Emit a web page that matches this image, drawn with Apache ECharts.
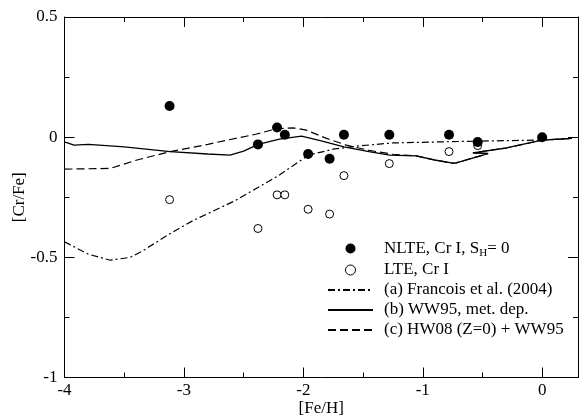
<!DOCTYPE html>
<html><head><meta charset="utf-8">
<script src="https://cdn.jsdelivr.net/npm/echarts@6/dist/echarts.min.js"></script>
<style>html,body{margin:0;padding:0;background:#fff}#c{width:580px;height:416px}</style>
</head><body><div id="c"></div>
<script>
// NLTE, Cr I (filled)
var nlteX = [-3.12, -2.38, -2.22, -2.155, -1.96, -1.78, -1.66, -1.28, -0.78, -0.54, 0];
var nlteY = [0.13, -0.03, 0.04, 0.01, -0.07, -0.09, 0.01, 0.01, 0.01, -0.02, 0];
// LTE, Cr I (open)
var lteX = [-3.12, -2.38, -2.22, -2.155, -1.96, -1.78, -1.66, -1.28, -0.78, -0.54];
var lteY = [-0.26, -0.38, -0.24, -0.24, -0.30, -0.32, -0.16, -0.11, -0.06, -0.035];
// (a) Francois et al. (2004)
var fraX = [-4, -3.97, -3.8, -3.616, -3.45, -3.338, -3.115, -2.92, -2.586, -2.224, -1.957, -1.75, -1.528, -1.25, -0.7, 0, 0.25];
var fraY = [-0.435, -0.443, -0.487, -0.512, -0.5, -0.471, -0.401, -0.346, -0.268, -0.165, -0.075, -0.05, -0.036, -0.024, -0.018, -0.012, -0.006];
// (b) WW95, met. dep.
var wwX = [-4, -3.92, -3.8, -3.5, -3.115, -2.8, -2.614, -2.5, -2.378, -2.2, -2.015, -1.85, -1.66, -1.45, -1.278, -1.055, -0.9, -0.749, -0.72, -0.453, -0.58, -0.3, 0, 0.25];
var wwY = [-0.02, -0.033, -0.03, -0.04, -0.06, -0.07, -0.075, -0.058, -0.03, -0.008, 0.004, -0.015, -0.04, -0.06, -0.075, -0.078, -0.095, -0.108, -0.107, -0.068, -0.065, -0.045, -0.012, -0.005];
// (c) HW08 (Z=0) + WW95
var hwX = [-4, -3.616, -3.4, -3.115, -2.8, -2.641, -2.4, -2.224, -2.085, -1.974, -1.806, -1.64, -1.45, -1.25, -1.055, -0.9, -0.749, -0.72, -0.453, -0.58, -0.3, 0, 0.25];
var hwY = [-0.133, -0.13, -0.096, -0.06, -0.03, -0.0125, 0.012, 0.035, 0.039, 0.029, -0.005, -0.033, -0.055, -0.071, -0.078, -0.095, -0.108, -0.107, -0.068, -0.065, -0.045, -0.012, -0.005];

var xTicks = ['-4', '-3', '-2', '-1', '0'];
var yTicks = ['-1', '-0.5', '0', '0.5'];

function pairs(xs, ys) { return xs.map(function (x, i) { return [x, ys[i]]; }); }

var FONT = 'Liberation Serif';
var FS = 17;
var chart = echarts.init(document.getElementById('c'), null, { renderer: 'canvas' });

function xAxisBase(pos, labels) {
  return {
    type: 'value', position: pos, min: -4, max: 0.3, interval: 1,
    axisLine: { show: true, onZero: false, lineStyle: { color: '#000', width: 1 } },
    axisTick: { show: true, inside: true, length: 10, lineStyle: { color: '#000' } },
    minorTick: { show: true, splitNumber: 2, length: 5, lineStyle: { color: '#000' } },
    splitLine: { show: false }, minorSplitLine: { show: false },
    axisLabel: labels ? {
      show: true, color: '#000', fontFamily: FONT, fontSize: FS, margin: 5,
      formatter: function (v) { var s = String(v); return xTicks.indexOf(s) >= 0 ? s : ''; }
    } : { show: false }
  };
}
function yAxisBase(pos, labels) {
  return {
    type: 'value', position: pos, min: -1, max: 0.5, interval: 0.5,
    axisLine: { show: true, onZero: false, lineStyle: { color: '#000', width: 1 } },
    axisTick: { show: true, inside: true, length: 10, lineStyle: { color: '#000' } },
    minorTick: { show: true, splitNumber: 2, length: 5, lineStyle: { color: '#000' } },
    splitLine: { show: false }, minorSplitLine: { show: false },
    axisLabel: labels ? {
      show: true, color: '#000', fontFamily: FONT, fontSize: FS, margin: 7,
      formatter: function (v) { var s = String(v); return yTicks.indexOf(s) >= 0 ? s : ''; }
    } : { show: false }
  };
}

var xa = xAxisBase('bottom', true);
xa.name = '[Fe/H]'; xa.nameLocation = 'middle'; xa.nameGap = 22.5; xa.nameMoveOverlap = false;
xa.nameTextStyle = { color: '#000', fontFamily: FONT, fontSize: FS };
var xb = xAxisBase('top', false);
var ya = yAxisBase('left', true);
ya.name = '[Cr/Fe]'; ya.nameLocation = 'middle'; ya.nameGap = 36; ya.nameMoveOverlap = false;
ya.nameTextStyle = { color: '#000', fontFamily: FONT, fontSize: FS };
var yb = yAxisBase('right', false);

var hideSym = { opacity: 0 };

var option = {
  animation: false,
  backgroundColor: '#fff',
  grid: { left: 64.5, right: 2, top: 17, bottom: 38.5, containLabel: false, outerBoundsMode: 'none' },
  xAxis: [xa, xb],
  yAxis: [ya, yb],
  legend: {
    orient: 'vertical', left: 327, top: 240, padding: 0,
    itemWidth: 45, itemHeight: 10, itemGap: 3,
    selectedMode: false,
    textStyle: {
      color: '#000', fontFamily: FONT, fontSize: FS,
      rich: {
        a: { fontFamily: FONT, fontSize: FS, color: '#000', lineHeight: 20, padding: [0, 0, 0, 6] },
        b: { fontFamily: FONT, fontSize: FS, color: '#000', lineHeight: 20 },
        sub: { fontFamily: FONT, fontSize: 11, color: '#000', lineHeight: 20, verticalAlign: 'bottom' }
      }
    },
    formatter: function (name) {
      if (name === 'NLTE') return '{a|NLTE, Cr I, S}{sub|H}{b|= 0}';
      return '{a|' + name + '}';
    },
    data: [
      { name: 'NLTE', icon: 'circle' },
      { name: 'LTE, Cr I', icon: 'circle', itemStyle: { borderWidth: 1 } },
      { name: '(a) Francois et al. (2004)', itemStyle: hideSym },
      { name: '(b) WW95, met. dep.', itemStyle: hideSym },
      { name: '(c) HW08 (Z=0) + WW95', itemStyle: hideSym }
    ]
  },
  series: [
    {
      name: '(a) Francois et al. (2004)', type: 'line', showSymbol: false, symbol: 'none',
      data: pairs(fraX, fraY), z: 2,
      lineStyle: { color: '#000', width: 1.2, type: [7, 3, 2, 3] }, itemStyle: { color: '#000' }
    },
    {
      name: '(b) WW95, met. dep.', type: 'line', showSymbol: false, symbol: 'none',
      data: pairs(wwX, wwY), z: 2,
      lineStyle: { color: '#000', width: 1.3, type: 'solid' }, itemStyle: { color: '#000' }
    },
    {
      name: '(c) HW08 (Z=0) + WW95', type: 'line', showSymbol: false, symbol: 'none',
      data: pairs(hwX, hwY), z: 2,
      lineStyle: { color: '#000', width: 1.2, type: [8, 4] }, itemStyle: { color: '#000' }
    },
    {
      name: 'LTE, Cr I', type: 'scatter', symbol: 'circle', symbolSize: 8,
      data: pairs(lteX, lteY), z: 3,
      itemStyle: { color: '#fff', borderColor: '#000', borderWidth: 1, opacity: 1 }
    },
    {
      name: 'NLTE', type: 'scatter', symbol: 'circle', symbolSize: 10,
      data: pairs(nlteX, nlteY), z: 4,
      itemStyle: { color: '#000', borderColor: '#000', borderWidth: 0, opacity: 1 }
    }
  ]
};
chart.setOption(option);
</script>
</body></html>
